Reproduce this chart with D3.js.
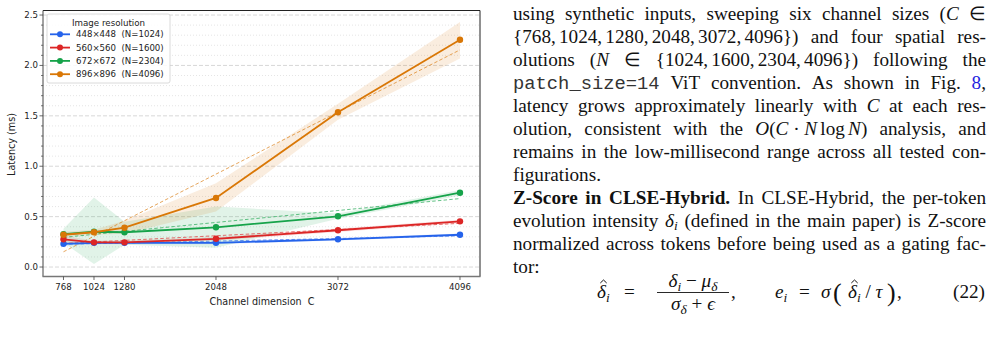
<!DOCTYPE html>
<html><head><meta charset="utf-8">
<script src="https://cdn.jsdelivr.net/npm/d3@7"></script>
<style>
body{margin:0;background:#fff;}
svg{display:block;}
text{white-space:pre;}
</style></head><body>
<svg id="c" width="992" height="341"></svg>
<script>
// ---------------- data ----------------
const channels = [768, 1024, 1280, 2048, 3072, 4096];
const seriesNames = ["448×448  (N=1024)", "560×560  (N=1600)", "672×672  (N=2304)", "896×896  (N=4096)"];
const lat448 = [0.23, 0.24, 0.24, 0.24, 0.275, 0.32];
const lat560 = [0.275, 0.245, 0.245, 0.28, 0.365, 0.453];
const lat672 = [0.325, 0.35, 0.345, 0.394, 0.503, 0.737];
const lat896 = [0.32, 0.345, 0.39, 0.685, 1.535, 2.255];
const lo448 = [0.21, 0.225, 0.225, 0.225, 0.262, 0.307];
const hi448 = [0.25, 0.255, 0.255, 0.255, 0.288, 0.333];
const lo560 = [0.24, 0.228, 0.23, 0.262, 0.348, 0.435];
const hi560 = [0.31, 0.262, 0.26, 0.298, 0.382, 0.47];
const lo672 = [0.24, 0.03, 0.22, 0.19, 0.48, 0.71];
const hi672 = [0.38, 0.69, 0.45, 0.60, 0.53, 0.765];
const lo896 = [0.30, 0.32, 0.33, 0.55, 1.46, 2.07];
const hi896 = [0.35, 0.37, 0.46, 0.83, 1.62, 2.43];
const yTickLabels = ["0.0", "0.5", "1.0", "1.5", "2.0", "2.5"];
const xTickLabels = ["768", "1024", "1280", "2048", "3072", "4096"];
const colors = ["#2563eb", "#dc2626", "#16a34a", "#d97706"];

const series = [
  {name: seriesNames[0], v: lat448, lo: lo448, hi: hi448, c: colors[0]},
  {name: seriesNames[1], v: lat560, lo: lo560, hi: hi560, c: colors[1]},
  {name: seriesNames[2], v: lat672, lo: lo672, hi: hi672, c: colors[2]},
  {name: seriesNames[3], v: lat896, lo: lo896, hi: hi896, c: colors[3]}
];

const svg = d3.select("#c");
const SANS = "DejaVu Sans, sans-serif";

// ---------------- scales ----------------
const L = 43, R = 480, T = 10.5, B = 276.5;
const x = d3.scaleLinear().domain([596, 4264]).range([L, R]);
const y = d3.scaleLinear().domain([-0.094, 2.545]).range([B, T]);

// ---------------- grid ----------------
const g = svg.append("g");
const minor = d3.range(0, 26).map(i => i / 10).filter(v => Math.round(v * 10) % 5 !== 0);
const major = yTickLabels.map(Number);
g.selectAll(".mg").data(minor).join("line")
  .attr("x1", L).attr("x2", R).attr("y1", d => y(d)).attr("y2", d => y(d))
  .attr("stroke", "#dedede").attr("stroke-width", 0.8).attr("stroke-dasharray", "1,2");
g.selectAll(".Mg").data(major).join("line")
  .attr("x1", L).attr("x2", R).attr("y1", d => y(d)).attr("y2", d => y(d))
  .attr("stroke", "#d4d4d4").attr("stroke-width", 0.9).attr("stroke-dasharray", "4,2");

// ---------------- bands ----------------
const area = d3.area().x(d => x(d.c)).y0(d => y(d.lo)).y1(d => y(d.hi));
series.forEach(s => {
  const pts = channels.map((c, i) => ({c, lo: s.lo[i], hi: s.hi[i]}));
  g.append("path").attr("d", area(pts)).attr("fill", s.c).attr("fill-opacity", 0.13);
});

// ---------------- fits (least squares of each series) ----------------
series.forEach(s => {
  const mx = d3.mean(channels), my = d3.mean(s.v);
  const sxy = d3.sum(channels, (c, i) => (c - mx) * (s.v[i] - my));
  const sxx = d3.sum(channels, c => (c - mx) * (c - mx));
  const k = sxy / sxx, b = my - k * mx;
  const ends = [channels[0], channels[channels.length - 1]];
  g.append("path")
    .attr("d", d3.line().x(c => x(c)).y(c => y(k * c + b))(ends))
    .attr("fill", "none").attr("stroke", s.c).attr("stroke-width", 1)
    .attr("stroke-opacity", 0.65).attr("stroke-dasharray", "3.5,2.2");
});

// ---------------- lines + markers ----------------
const line = d3.line().x(d => x(d.c)).y(d => y(d.v));
series.forEach(s => {
  const pts = channels.map((c, i) => ({c, v: s.v[i]}));
  g.append("path").attr("d", line(pts)).attr("fill", "none")
    .attr("stroke", s.c).attr("stroke-width", 1.8);
  g.selectAll(null).data(pts).join("circle")
    .attr("cx", d => x(d.c)).attr("cy", d => y(d.v)).attr("r", 3.2).attr("fill", s.c);
});

// ---------------- axes ----------------
const ax = svg.append("g").attr("font-family", SANS);
ax.append("line").attr("x1", L).attr("x2", R).attr("y1", T).attr("y2", T).attr("stroke", "#222").attr("stroke-width", 1);
ax.append("line").attr("x1", R).attr("x2", R).attr("y1", T).attr("y2", B).attr("stroke", "#222").attr("stroke-width", 1);
ax.append("line").attr("x1", L).attr("x2", L).attr("y1", T).attr("y2", B).attr("stroke", "#444").attr("stroke-width", 1);
ax.append("line").attr("x1", L - 0.5).attr("x2", R + 0.5).attr("y1", B).attr("y2", B).attr("stroke", "#777").attr("stroke-width", 1.6);
ax.selectAll(".ym").data(minor).join("line")
  .attr("x1", L - 2).attr("x2", L).attr("y1", d => y(d)).attr("y2", d => y(d)).attr("stroke", "#444").attr("stroke-width", 0.7);
ax.selectAll(".yM").data(major).join("line")
  .attr("x1", L - 3.5).attr("x2", L).attr("y1", d => y(d)).attr("y2", d => y(d)).attr("stroke", "#444").attr("stroke-width", 0.8);
ax.selectAll(".yl").data(major).join("text")
  .attr("x", L - 5).attr("y", d => y(d) + 3).attr("text-anchor", "end")
  .attr("font-size", 8.6).attr("fill", "#222").text((d, i) => yTickLabels[i]);
ax.selectAll(".xt").data(channels).join("line")
  .attr("x1", d => x(d)).attr("x2", d => x(d)).attr("y1", B).attr("y2", B + 3.5).attr("stroke", "#444").attr("stroke-width", 0.8);
ax.selectAll(".xl").data(channels).join("text")
  .attr("x", d => x(d)).attr("y", 290).attr("text-anchor", "middle")
  .attr("font-size", 8.6).attr("fill", "#222").text((d, i) => xTickLabels[i]);
ax.append("text").attr("x", (L + R) / 2 + 0.5).attr("y", 304.5).attr("text-anchor", "middle")
  .attr("font-size", 9.6).attr("fill", "#222").text("Channel dimension  C");
ax.append("text").attr("transform", `translate(15,${(T + B) / 2 + 1}) rotate(-90)`)
  .attr("text-anchor", "middle").attr("font-size", 9.6).attr("fill", "#222").text("Latency (ms)");

// ---------------- legend ----------------
const lg = svg.append("g").attr("font-family", SANS);
lg.append("rect").attr("x", 47).attr("y", 14).attr("width", 123).attr("height", 69).attr("rx", 2)
  .attr("fill", "#fff").attr("fill-opacity", 0.85).attr("stroke", "#d0d0d0").attr("stroke-width", 0.8);
lg.append("text").attr("x", 108.5).attr("y", 25.5).attr("text-anchor", "middle")
  .attr("font-size", 8.7).attr("fill", "#222").text("Image resolution");
series.forEach((s, i) => {
  const yy = 34.3 + i * 13.3;
  lg.append("line").attr("x1", 50).attr("x2", 70).attr("y1", yy).attr("y2", yy).attr("stroke", s.c).attr("stroke-width", 1.8);
  lg.append("circle").attr("cx", 60).attr("cy", yy).attr("r", 3).attr("fill", s.c);
  lg.append("text").attr("x", 76).attr("y", yy + 3).attr("font-size", 8.6).attr("fill", "#222").text(s.name);
});

// ---------------- body text (right column) ----------------
const SERIF = "Liberation Serif, Times New Roman, serif";
const MONO = "Liberation Mono, monospace";
const FS = 19.2;
const paraLines = [
  ["using synthetic inputs, sweeping six channel sizes ([i|C] ∈", true],
  ["{768,\u20061024,\u20061280,\u20062048,\u20063072,\u20064096}) and four spatial res-", true],
  ["olutions ([i|N] ∈ {1024,\u20061600,\u20062304,\u20064096}) following the", true],
  ["[m|patch_size=14] ViT convention.  As shown in Fig. [l|8],", true],
  ["latency grows approximately linearly with [i|C] at each res-", true],
  ["olution, consistent with the [i|O]([i|C]\u2005·\u2005[i|N]\u2006log\u2006[i|N]) analysis, and", true],
  ["remains in the low-millisecond range across all tested con-", true],
  ["figurations.", false],
  ["[b|Z-Score] [b|in] [b|CLSE-Hybrid.] In CLSE-Hybrid, the per-token", true],
  ["evolution intensity [i|δ][s|i] (defined in the main paper) is Z-score", true],
  ["normalized across tokens before being used as a gating fac-", true],
  ["tor:", false]
];

function parseRuns(word) {
  const re = /\[(\w+)\|([^\]]*)\]|([^\[]+)/g;
  const out = []; let m;
  while ((m = re.exec(word)) !== null) {
    if (m[3] !== undefined) out.push(["n", m[3]]); else out.push([m[1], m[2]]);
  }
  return out;
}
function writeRuns(t, runs, fs) {
  let pendingUp = 0;
  runs.forEach(([cls, txt]) => {
    const ts = t.append("tspan").text(txt);
    if (pendingUp) { ts.attr("dy", -pendingUp); pendingUp = 0; }
    if (cls === "i") ts.attr("font-style", "italic");
    if (cls === "b") ts.attr("font-weight", "bold");
    if (cls === "m") ts.attr("font-family", MONO).attr("font-size", fs * 0.98).attr("fill", "#333");
    if (cls === "l") ts.attr("fill", "#2323e0");
    if (cls === "s") { ts.attr("font-style", "italic").attr("font-size", fs * 0.7).attr("dy", fs * 0.2); pendingUp = fs * 0.2; }
  });
}
const tg = svg.append("g").attr("font-family", SERIF).attr("font-size", FS).attr("fill", "#111");
const X0 = 513, X1 = 986, BASE0 = 19.5, LH = 23;
paraLines.forEach(([str, just], li) => {
  const words = str.split(" ").filter(w => w.length);
  const yy = BASE0 + li * LH;
  const els = words.map(w => {
    const t = tg.append("text").attr("y", yy);
    writeRuns(t, parseRuns(w), FS);
    return t;
  });
  const widths = els.map(e => e.node().getComputedTextLength());
  const tot = d3.sum(widths);
  const gap = just && els.length > 1 ? (X1 - X0 - tot) / (els.length - 1) : FS * 0.25;
  let cx = X0;
  els.forEach((e, i) => { e.attr("x", cx); cx += widths[i] + gap; });
});

// ---------------- equation (22) ----------------
const eq = svg.append("g").attr("font-family", SERIF).attr("font-size", FS).attr("fill", "#111");
function put(xp, yp, str, anchor) {
  const t = eq.append("text").attr("x", xp).attr("y", yp).attr("text-anchor", anchor || "start");
  writeRuns(t, parseRuns(str), FS);
  return t;
}
function hat(cx, top) {
  eq.append("path").attr("d", `M${cx - 3.2},${top + 3} L${cx},${top} L${cx + 3.2},${top + 3}`)
    .attr("fill", "none").attr("stroke", "#111").attr("stroke-width", 1);
}
const EB = 298;
put(597, EB, "[i|δ][s|i]");
hat(603.5, EB - 18);
put(624, EB, "=");
put(693, EB - 11, "[i|δ][s|i]\u2005−\u2005[i|μ][s|δ]", "middle");
eq.append("line").attr("x1", 657).attr("x2", 729).attr("y1", EB - 5.5).attr("y2", EB - 5.5).attr("stroke", "#111").attr("stroke-width", 0.9);
put(693, EB + 12, "[i|σ][s|δ]\u2005+\u2005[i|ϵ]", "middle");
put(731, EB, ",");
put(775, EB, "[i|e][s|i]");
put(799, EB, "=");
put(821, EB, "[i|σ]");
eq.append("text").attr("x", 833).attr("y", EB + 3).attr("font-size", FS * 1.35).text("(");
put(848, EB, "[i|δ][s|i]\u2005/\u2005[i|τ]");
hat(854.5, EB - 18);
eq.append("text").attr("x", 887).attr("y", EB + 3).attr("font-size", FS * 1.35).text(")");
put(897, EB, ",");
put(985, EB, "(22)", "end");
</script>
</body></html>
